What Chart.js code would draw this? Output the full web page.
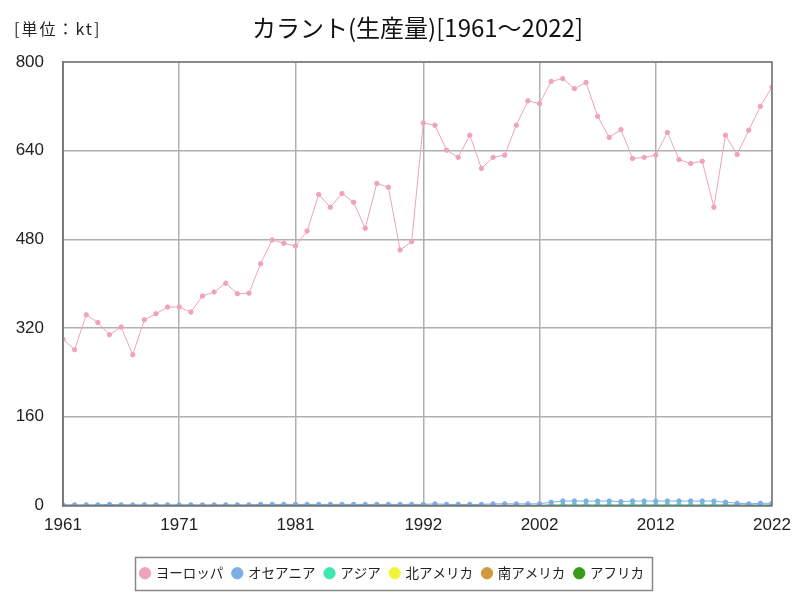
<!DOCTYPE html>
<html>
<head>
<meta charset="utf-8">
<script src="https://cdn.jsdelivr.net/npm/chart.js@4/dist/chart.umd.min.js"></script>
<style>
html,body{margin:0;padding:0;background:#fff;}
#wrap{width:800px;height:600px;position:relative;}
</style>
</head>
<body>
<div id="wrap"><canvas id="c" width="800" height="600"></canvas></div>
<script>
const years = [];
for (let y = 1961; y <= 2022; y++) years.push(y);

const europe = [300,281,344,330,308,322,272,335,346,358,358,349,378,385,401,382,383,436,479,473,468,495,561,538,563,547,500,581,574,461,476,
690,686,641,628,668,608,628,632,686,730,725,765,770,752,763,702,664,678,626,628,632,673,624,617,621,538,668,633,677,720,755];
const oceania = [1,1,1,1,2,1,1,1,1,1,1,1,1,1,1,1,1,2,2,2,2,2,2,2,2,2,2,2,2,2,2,
2,3,2,2,2,2,3,3,3,3,3,6,8,8,8,8,8,7,8,8,8,8,8,8,8,8,6,4,3,4,4];
const asia = [0,0,0,0,0,0,0,0,0,0,0,0,0,0,0,0,0,0,0,0,0,0,0,0,0,0,0,0,0,0,0,
0,0,0,0,0,0,0,0,0,0,0,1,1,1,1,1,1,1,1,1,1,1,1,1,1,1,1,1,1,1,1];
const northAmerica = years.map(() => 0);
const southAmerica = years.map(() => 0);
const africa = years.map(() => 0);
const xTicks = [1961,1971,1981,1992,2002,2012,2022];
const yTicks = [0,160,320,480,640,800];
const titleText = 'カラント(生産量)[1961～2022]';
const unitText = '[単位：kt]';

const seriesNames = ['ヨーロッパ','オセアニア','アジア','北アメリカ','南アメリカ','アフリカ'];
const seriesData = [europe, oceania, asia, northAmerica, southAmerica, africa];
const seriesColors = ['#eea3bb','#7eaee6','#3ee8b0','#f0f53a','#d09a3c','#3a9a1a'];

const datasets = seriesNames.map((n, i) => ({
  label: n,
  data: years.map((y, k) => ({x: y, y: seriesData[i][k]})),
  borderColor: seriesColors[i],
  backgroundColor: seriesColors[i],
  borderWidth: 1,
  pointRadius: 2.2,
  pointHoverRadius: 3,
  tension: 0,
  order: i
}));

const frame = {
  id: 'frame',
  afterDraw(chart) {
    const ctx = chart.ctx, a = chart.chartArea;
    ctx.save();
    ctx.strokeStyle = '#777';
    ctx.lineWidth = 1.5;
    ctx.strokeRect(a.left, a.top, a.right - a.left, a.bottom - a.top);
    const lg = chart.legend;
    const hb = lg.legendHitBoxes;
    if (hb && hb.length) {
      let l = Infinity, r = -Infinity;
      hb.forEach(h => { l = Math.min(l, h.left); r = Math.max(r, h.left + h.width); });
      ctx.strokeStyle = '#888';
      ctx.lineWidth = 1.5;
      ctx.strokeRect(Math.round(l - 6) + 0.5, Math.round(lg.top) + 0.5, Math.round(r - l + 14), Math.round(lg.height) - 1);
    }
    ctx.fillStyle = '#111';
    ctx.textBaseline = 'middle';
    ctx.textAlign = 'center';
    ctx.font = '24px "Noto Sans CJK JP"';
    ctx.fillText(titleText, (a.left + a.right) / 2, 28);
    ctx.fillStyle = '#222';
    ctx.textAlign = 'left';
    ctx.font = '16px "Noto Sans CJK JP"';
    ctx.letterSpacing = '2px';
    ctx.fillText(unitText, 14, 29);
    ctx.restore();
  }
};

new Chart(document.getElementById('c'), {
  type: 'line',
  data: { datasets },
  options: {
    responsive: false,
    animation: false,
    layout: { padding: { left: 13, right: 28, top: 62, bottom: 10 } },
    plugins: {
      title: { display: false },
      legend: {
        position: 'bottom',
        labels: {
          usePointStyle: true,
          pointStyle: 'circle',
          boxWidth: 8,
          boxHeight: 8,
          padding: 10,
          color: '#222',
          font: { family: '"Noto Sans CJK JP"', size: 13.5 }
        }
      },
      tooltip: { enabled: false }
    },
    scales: {
      x: {
        type: 'linear',
        min: 1961,
        max: 2022,
        afterBuildTicks(axis) { axis.ticks = xTicks.map(v => ({value: v})); },
        afterFit(axis) { axis.height = 51; axis.paddingLeft = 0; axis.paddingRight = 0; },
        ticks: {
          autoSkip: false,
          maxRotation: 0,
          padding: 10,
          color: '#222',
          font: { family: '"Liberation Sans"', size: 17 },
          callback: v => String(v)
        },
        grid: { color: '#b0b0b0', lineWidth: 1.5, drawTicks: false },
        border: { color: '#666', width: 1.5 }
      },
      y: {
        min: 0,
        max: 800,
        afterBuildTicks(axis) { axis.ticks = yTicks.map(v => ({value: v})); },
        afterFit(axis) { axis.width = 50; },
        ticks: {
          color: '#222',
          padding: 19,
          font: { family: '"Liberation Sans"', size: 17 }
        },
        grid: { color: '#b0b0b0', lineWidth: 1.5, drawTicks: false },
        border: { color: '#666', width: 1.5 }
      }
    }
  },
  plugins: [frame]
});
</script>
</body>
</html>
